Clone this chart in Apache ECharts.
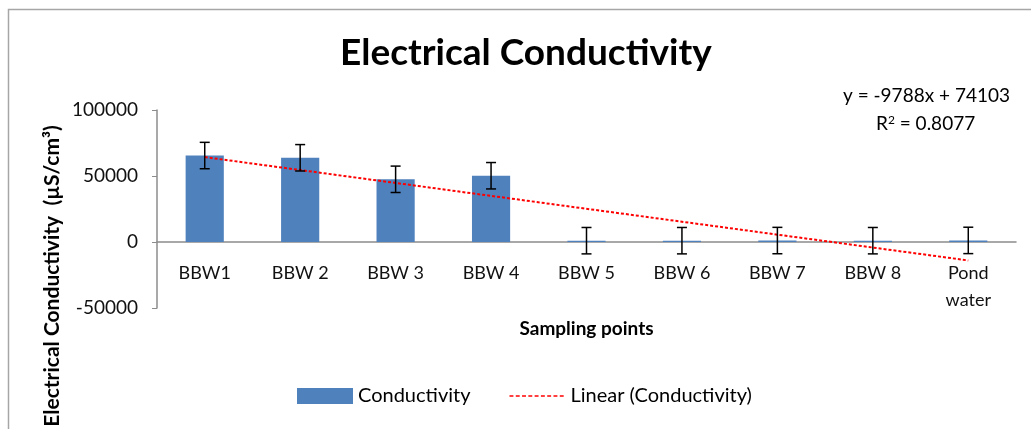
<!DOCTYPE html>
<html>
<head>
<meta charset="utf-8">
<script src="https://cdn.jsdelivr.net/npm/echarts@6/dist/echarts.min.js"></script>
<style>
  html, body { margin: 0; padding: 0; background: #fff; }
  #chart { width: 1031px; height: 429px; }
</style>
</head>
<body>
<div id="chart"></div>
<script>
// Data
const categories = ['BBW1', 'BBW 2', 'BBW 3', 'BBW 4', 'BBW 5', 'BBW 6', 'BBW 7', 'BBW 8', 'Pond water'];
const conductivity = [65500, 63800, 47500, 50200, 1000, 1000, 1100, 1000, 1200];
const errorAmount = [10000, 10000, 10000, 10000, 10000, 10000, 10000, 10000, 10000];
// Linear trend end points (from y = -9788x + 74103 at BBW1 and Pond water)
const trendStart = 64315;
const trendEnd = -13989;
const yTicks = [-50000, 0, 50000, 100000];

const FONT = 'Lato';
const chart = echarts.init(document.getElementById('chart'));

const trendData = categories.map((c, i) => i === 0 ? trendStart : (i === categories.length - 1 ? trendEnd : '-'));
const errData = conductivity.map((v, i) => [i, v - errorAmount[i], v + errorAmount[i]]);

// dashed legend icon for the trend line (tiny corner squares keep the 57x16 box)
let dashIcon = 'path://M0,0h0.01v0.01h-0.01zM57,16h0.01v0.01h-0.01z';
for (let i = 0; i < 9; i++) dashIcon += 'M' + (i * 6.4) + ',7.3h4v1.5h-4z';

chart.setOption({
  animation: false,
  backgroundColor: '#fff',
  title: {
    text: 'Electrical Conductivity',
    left: 335,
    top: 30,
    textStyle: { fontFamily: FONT, fontSize: 37, fontWeight: 'bold', color: '#000' }
  },
  grid: { left: 157, right: 15, top: 110, bottom: 121 },
  legend: {
    left: 292,
    top: 381,
    itemWidth: 56,
    itemHeight: 16,
    itemGap: 39,
    textStyle: { fontFamily: FONT, fontSize: 20, color: '#000' },
    data: [
      { name: 'Conductivity', icon: 'rect' },
      { name: 'Linear (Conductivity)', icon: dashIcon, itemStyle: { color: '#ff0000' } }
    ]
  },
  xAxis: {
    type: 'category',
    data: categories,
    name: 'Sampling points',
    nameLocation: 'middle',
    nameGap: 11,
    nameTextStyle: { fontFamily: FONT, fontSize: 19, fontWeight: 'bold', color: '#000' },
    axisLine: { onZero: true, lineStyle: { color: '#8c8c8c', width: 1.5 } },
    axisTick: { show: false },
    axisLabel: {
      margin: -48,
      fontFamily: FONT,
      fontSize: 18,
      lineHeight: 27,
      color: '#111',
      formatter: v => v.replace(' water', '\nwater')
    }
  },
  yAxis: {
    type: 'value',
    min: yTicks[0],
    max: yTicks[yTicks.length - 1],
    interval: 50000,
    splitLine: { show: false },
    axisLine: { show: true, lineStyle: { color: '#8c8c8c', width: 1.5 } },
    axisTick: { show: true, length: 5, lineStyle: { color: '#8c8c8c' } },
    axisLabel: { margin: 19, fontFamily: FONT, fontSize: 19, color: '#111', formatter: v => String(v) }
  },
  graphic: [
    {
      type: 'rect',
      silent: true,
      shape: { x: 8.5, y: 9.5, width: 1100, height: 600 },
      style: { fill: 'none', stroke: '#a6a6a6', lineWidth: 1.5 }
    },
    {
      type: 'text',
      left: 843,
      top: 86,
      style: { text: 'y = -9788x + 74103', fontFamily: FONT, fontSize: 19, fill: '#000' }
    },
    {
      type: 'text',
      left: 876,
      top: 114,
      style: {
        text: '{a|R}{s|2}{a| = 0.8077}',
        rich: {
          a: { fontFamily: FONT, fontSize: 19, color: '#000' },
          s: { fontFamily: FONT, fontSize: 12, color: '#000', verticalAlign: 'top', padding: [0, 0, 8, 0] }
        }
      }
    },
    {
      type: 'text',
      x: 52,
      y: 276,
      rotation: Math.PI / 2,
      style: {
        text: 'Electrical Conductivity  (µS/cm³)',
        fontFamily: FONT,
        fontSize: 21,
        fontWeight: 'bold',
        fill: '#000',
        align: 'center',
        verticalAlign: 'middle'
      }
    }
  ],
  series: [
    {
      name: 'Conductivity',
      type: 'bar',
      data: conductivity,
      barWidth: '40%',
      itemStyle: { color: '#4f81bd' },
      z: 2
    },
    {
      name: 'Linear (Conductivity)',
      type: 'line',
      data: trendData,
      connectNulls: true,
      symbol: 'none',
      lineStyle: { color: '#ff0000', width: 2, type: [3, 2] },
      itemStyle: { color: '#ff0000' },
      z: 4
    },
    {
      name: 'errors',
      type: 'custom',
      data: errData,
      z: 5,
      renderItem: (params, api) => {
        const x = api.value(0);
        const lo = api.coord([x, api.value(1)]);
        const hi = api.coord([x, api.value(2)]);
        const cap = 5;
        const style = { stroke: '#000', lineWidth: 1.5 };
        return {
          type: 'group',
          children: [
            { type: 'line', shape: { x1: hi[0], y1: hi[1], x2: lo[0], y2: lo[1] }, style },
            { type: 'line', shape: { x1: hi[0] - cap, y1: hi[1], x2: hi[0] + cap, y2: hi[1] }, style },
            { type: 'line', shape: { x1: lo[0] - cap, y1: lo[1], x2: lo[0] + cap, y2: lo[1] }, style }
          ]
        };
      }
    }
  ]
});
</script>
</body>
</html>
